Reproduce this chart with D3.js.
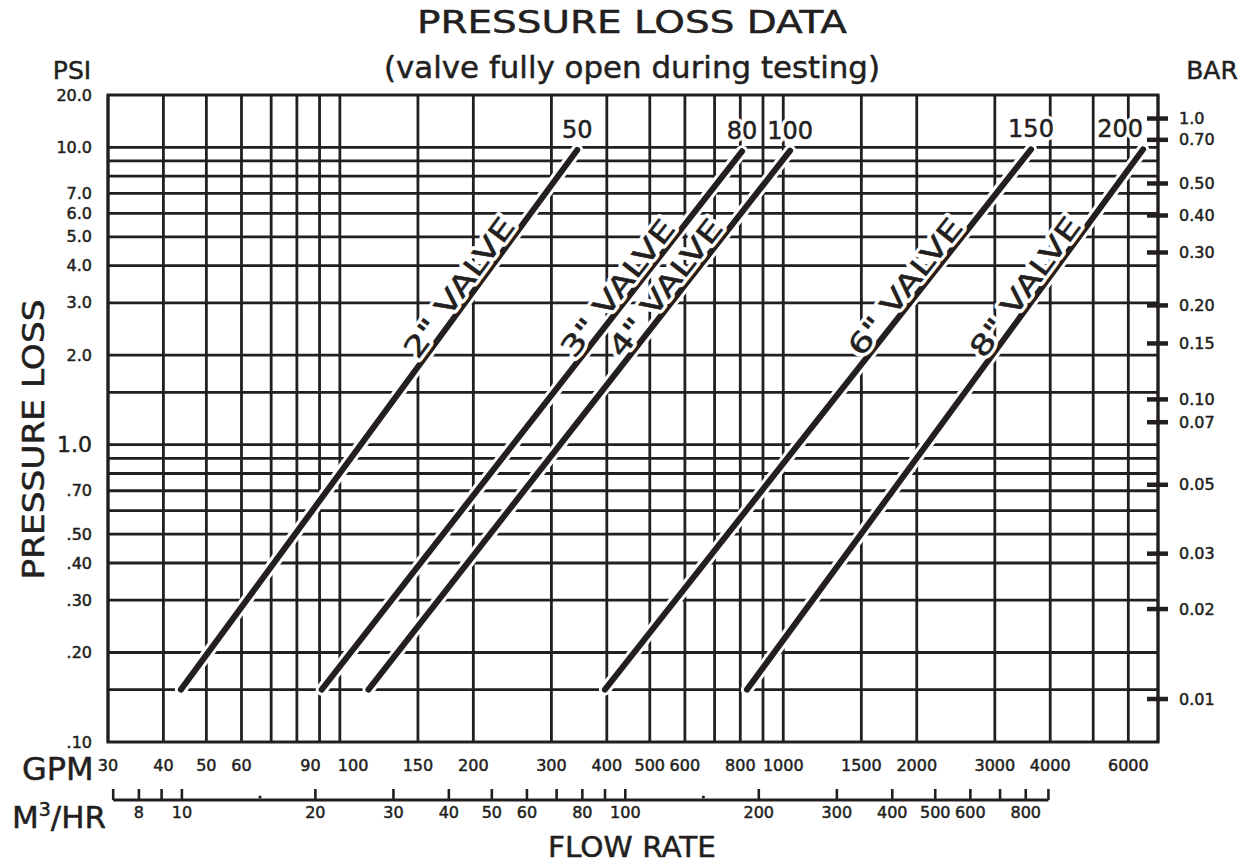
<!DOCTYPE html>
<html>
<head>
<meta charset="utf-8">
<script src="https://cdnjs.cloudflare.com/ajax/libs/d3/7.8.5/d3.min.js"></script>
<style>
body { margin:0; background:#fff; }
text { font-family:"DejaVu Sans", "Noto Sans", sans-serif; fill:#231f20; }
.ink { stroke:#231f20; stroke-width:0.5; }
.halo { fill:#fff; stroke:#fff; stroke-width:7; stroke-linejoin:round; }
</style>
</head>
<body>
<svg id="chart"></svg>
<script>
// flow rate (GPM) grid + labels
var gpmGrid = [30,40,50,60,70,80,90,100,150,200,300,400,500,600,700,800,900,1000,1500,2000,3000,4000,5000,6000,7000]
var gpmLabels = [30,40,50,60,90,100,150,200,300,400,500,600,800,1000,1500,2000,3000,4000,6000]
// m3/hr scale under it
var m3Ticks = [7,8,9,10,20,30,40,50,60,70,80,90,100,200,300,400,500,600,700,800,900]
var m3Labels = [8,10,20,30,40,50,60,80,100,200,300,400,500,600,800]
var m3Dots = [15,150]
var gpmPerM3 = 4.403
// pressure (PSI)
var psiGrid = [10,9,8,7,6,5,4,3,2,1.5,1,0.9,0.8,0.7,0.6,0.5,0.4,0.3,0.2,0.15]
var psiTop = 15
var psiTickVals = [15,10,7,6,5,4,3,2,1,0.7,0.5,0.4,0.3,0.2,0.1]
var psiTickText = ["20.0","10.0","7.0","6.0","5.0","4.0","3.0","2.0","1.0",".70",".50",".40",".30",".20",".10"]
// BAR marks, placed at the psi height
var barText = ["1.0","0.70","0.50","0.40","0.30","0.20","0.15","0.10","0.07","0.05","0.03","0.02","0.01"]
var barAtPsi = [12.5,10.6,7.56,5.9,4.43,2.94,2.19,1.42,1.19,0.733,0.43,0.28,0.1395]
// valve lines
var valveNames = ['2" VALVE','3" VALVE','4" VALVE','6" VALVE','8" VALVE']
var valveMM = ["50","80","100","150","200"]
var valveGpmLow = [43.8,91,116,396,828]
var valveGpmHigh = [343,807,1036,3620,6480]
var valvePsiLow = [0.15,0.15,0.15,0.15,0.15]
var valvePsiHigh = [9.8,9.7,9.75,9.85,9.85]

var screen = {width:1244, height:865}
var margins = {top:95, bottom:123, left:108, right:86}
var graph = {
    width:screen.width-margins.left-margins.right,
    height:screen.height-margins.top-margins.bottom
}
var ink = "#231f20"

var svg = d3.select("#chart")
    .attr("width", screen.width)
    .attr("height", screen.height)

var xScale = d3.scaleLog()
    .domain([30,7000])
    .range([margins.left, margins.left+graph.width])
var m3Scale = d3.scaleLog()
    .domain([30/gpmPerM3, 7000/gpmPerM3])
    .range([margins.left, margins.left+graph.width])
var yScale = d3.scaleLog()
    .domain([0.1, psiTop])
    .range([margins.top+graph.height, margins.top])

var drawGrid = function()
{
    var grid = svg.append("g").classed("grid", true)
        .attr("stroke", ink).attr("stroke-width", 2.8)
    grid.selectAll("line.v")
        .data(gpmGrid)
        .enter().append("line")
        .classed("v", true)
        .attr("x1", function(d){return xScale(d)})
        .attr("x2", function(d){return xScale(d)})
        .attr("y1", yScale(psiTop))
        .attr("y2", yScale(0.1))
    grid.selectAll("line.h")
        .data(psiGrid)
        .enter().append("line")
        .classed("h", true)
        .attr("x1", xScale(30))
        .attr("x2", xScale(7000))
        .attr("y1", function(d){return yScale(d)})
        .attr("y2", function(d){return yScale(d)})
    grid.append("rect")
        .attr("x", xScale(30)).attr("y", yScale(psiTop))
        .attr("width", xScale(7000)-xScale(30))
        .attr("height", yScale(0.1)-yScale(psiTop))
        .attr("fill", "none").attr("stroke-width", 3)
}

// text with a white halo behind it
var haloText = function(sel, txt, size)
{
    sel.append("text").classed("halo", true).text(txt).attr("font-size", size)
    sel.append("text").classed("ink", true).text(txt).attr("font-size", size)
}

var drawValves = function()
{
    var valves = valveNames.map(function(n,i){
        return {name:n, mm:valveMM[i],
            pts:[[valveGpmLow[i],valvePsiLow[i]],[valveGpmHigh[i],valvePsiHigh[i]]]}
    })
    var line = d3.line()
        .x(function(p){return xScale(p[0])})
        .y(function(p){return yScale(p[1])})
    var g = svg.append("g").classed("valves", true)
    var v = g.selectAll("g").data(valves).enter().append("g")
    v.append("path")
        .attr("d", function(d){return line(d.pts)})
        .attr("stroke", "#fff").attr("stroke-width", 12)
        .attr("stroke-linecap", "round").attr("fill", "none")
    v.append("path")
        .attr("d", function(d){return line(d.pts)})
        .attr("stroke", ink).attr("stroke-width", 6)
        .attr("stroke-linecap", "round").attr("fill", "none")

    // size labels at top end
    v.each(function(d,i){
        var t = d3.select(this).append("g")
            .attr("transform", "translate("+xScale(d.pts[1][0])+","+(yScale(d.pts[1][1])-12)+")")
        haloText(t, d.mm, 24)
        t.selectAll("text").attr("text-anchor", i==valves.length-1 ? "end" : "middle")
    })

    // rotated names along the line
    v.each(function(d){
        var x0 = xScale(d.pts[0][0]), y0 = yScale(d.pts[0][1])
        var x1 = xScale(d.pts[1][0]), y1 = yScale(d.pts[1][1])
        var t = 0.73
        var ang = Math.atan2(y1-y0, x1-x0)*180/Math.PI
        var g2 = d3.select(this).append("g")
            .attr("transform", "translate("+(x0+(x1-x0)*t)+","+(y0+(y1-y0)*t)+") rotate("+ang+")")
        haloText(g2, d.name, 28)
        g2.selectAll("text").attr("text-anchor", "middle").attr("dy", -4)
            .attr("textLength", 166).attr("lengthAdjust", "spacingAndGlyphs")
    })
}

var drawAxes = function()
{
    var ax = svg.append("g").classed("axes", true)
    // left PSI labels
    ax.selectAll("text.psi")
        .data(psiTickVals)
        .enter().append("text")
        .classed("psi ink", true)
        .text(function(d,i){return psiTickText[i]})
        .attr("x", margins.left-16)
        .attr("y", function(d){return yScale(d)})
        .attr("dy", "0.35em")
        .attr("text-anchor", "end")
        .attr("font-size", function(d){return d==1 ? 22 : 16})

    // right BAR marks
    var bar = ax.append("g")
    bar.selectAll("line")
        .data(barAtPsi)
        .enter().append("line")
        .attr("x1", xScale(7000)-11).attr("x2", xScale(7000)+10)
        .attr("y1", function(d){return yScale(d)})
        .attr("y2", function(d){return yScale(d)})
        .attr("stroke", ink).attr("stroke-width", 4.5)
    bar.selectAll("text")
        .data(barAtPsi)
        .enter().append("text")
        .classed("ink", true)
        .text(function(d,i){return barText[i]})
        .attr("x", xScale(7000)+21)
        .attr("y", function(d){return yScale(d)})
        .attr("dy", "0.35em")
        .attr("font-size", 16)

    // GPM labels
    ax.selectAll("text.gpm")
        .data(gpmLabels)
        .enter().append("text")
        .classed("gpm ink", true)
        .text(function(d){return d})
        .attr("x", function(d){return xScale(d) + (d==90 ? 1 : d==100 ? -2 : 0)})
        .attr("y", 771)
        .attr("text-anchor", function(d){return d==90 ? "end" : d==100 ? "start" : "middle"})
        .attr("font-size", 16)

    // m3/hr axis
    var m3 = ax.append("g")
    var base = 800
    m3.append("line")
        .attr("x1", m3Scale(7)).attr("x2", m3Scale(900))
        .attr("y1", base).attr("y2", base)
        .attr("stroke", ink).attr("stroke-width", 2.8)
    m3.selectAll("line.tk")
        .data(m3Ticks)
        .enter().append("line")
        .classed("tk", true)
        .attr("x1", function(d){return m3Scale(d)})
        .attr("x2", function(d){return m3Scale(d)})
        .attr("y1", base-11).attr("y2", base)
        .attr("stroke", ink).attr("stroke-width", 2.6)
    m3.selectAll("circle")
        .data(m3Dots)
        .enter().append("circle")
        .attr("cx", function(d){return m3Scale(d)})
        .attr("cy", base-3).attr("r", 1.6)
        .attr("fill", ink)
    m3.selectAll("text")
        .data(m3Labels)
        .enter().append("text")
        .classed("ink", true)
        .text(function(d){return d})
        .attr("x", function(d){return m3Scale(d)})
        .attr("y", 818)
        .attr("text-anchor", "middle")
        .attr("font-size", 16)
}

var drawLabels = function()
{
    var labels = svg.append("g").classed("labels", true)
    labels.append("text")
        .classed("ink", true)
        .text("PRESSURE LOSS DATA")
        .attr("x", 632).attr("y", 33)
        .attr("text-anchor", "middle")
        .attr("font-size", 32)
        .attr("textLength", 430).attr("lengthAdjust", "spacingAndGlyphs")
    labels.append("text")
        .classed("ink", true)
        .text("(valve fully open during testing)")
        .attr("x", 632).attr("y", 78)
        .attr("text-anchor", "middle")
        .attr("font-size", 31)
        .attr("textLength", 496).attr("lengthAdjust", "spacingAndGlyphs")
    labels.append("text")
        .classed("ink", true)
        .text("PSI")
        .attr("x", 72).attr("y", 79)
        .attr("text-anchor", "middle")
        .attr("font-size", 25)
    labels.append("text")
        .classed("ink", true)
        .text("BAR")
        .attr("x", 1212).attr("y", 79)
        .attr("text-anchor", "middle")
        .attr("font-size", 25)
    labels.append("g")
        .attr("transform", "translate(44,"+(margins.top+graph.height/2+21)+")")
        .append("text")
        .classed("ink", true)
        .text("PRESSURE LOSS")
        .attr("text-anchor", "middle")
        .attr("transform", "rotate(270)")
        .attr("font-size", 31)
        .attr("textLength", 280).attr("lengthAdjust", "spacingAndGlyphs")
    labels.append("text")
        .classed("ink", true)
        .text("GPM")
        .attr("x", 22).attr("y", 780)
        .attr("font-size", 32)
    var m = labels.append("text")
        .classed("ink", true)
        .attr("x", 12).attr("y", 828)
        .attr("font-size", 31)
    m.append("tspan").text("M")
    m.append("tspan").text("3").attr("font-size", 19).attr("dy", -12)
    m.append("tspan").text("/HR").attr("dy", 12)
    labels.append("text")
        .classed("ink", true)
        .text("FLOW RATE")
        .attr("x", 632).attr("y", 857)
        .attr("text-anchor", "middle")
        .attr("font-size", 28)
        .attr("textLength", 168).attr("lengthAdjust", "spacingAndGlyphs")
}

drawGrid()
drawValves()
drawAxes()
drawLabels()
</script>
</body>
</html>
